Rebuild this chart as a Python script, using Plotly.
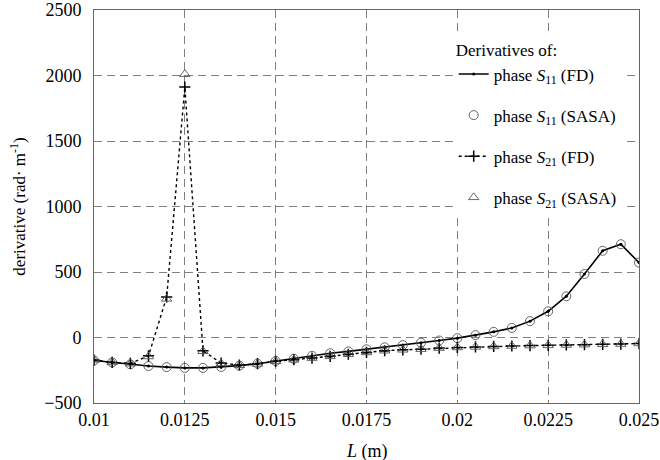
import plotly.graph_objects as go

L = [0.01 + 0.0005 * i for i in range(31)]

s11_fd = [-175, -190, -205, -218, -226, -232, -232, -225, -215, -200,
          -180, -162, -140, -120, -106, -90, -75, -58, -40, -23,
          -5, 18, 43, 73, 125, 200, 315, 485, 662, 712, 572]
s11_sasa = [-175, -190, -205, -218, -226, -232, -232, -225, -215, -200,
            -180, -162, -140, -120, -106, -90, -75, -58, -40, -23,
            -5, 18, 43, 73, 125, 200, 315, 485, 662, 712, 572]
s21_fd = [-172, -190, -198, -140, 309, 1912, -102, -195, -210, -200,
          -182, -170, -157, -144, -128, -114, -101, -94, -89, -81,
          -76, -72, -68, -65, -62, -60, -57, -55, -52, -50, -46]
s21_sasa = [-172, -190, -200, -145, 295, 2010, -105, -198, -212, -202,
            -182, -170, -157, -144, -128, -114, -101, -94, -89, -81,
            -76, -72, -68, -65, -62, -60, -57, -55, -52, -50, -46]

x_ticks = [0.01, 0.0125, 0.015, 0.0175, 0.02, 0.0225, 0.025]
x_labels = ["0.01", "0.0125", "0.015", "0.0175", "0.02", "0.0225", "0.025"]
y_ticks = [-500, 0, 500, 1000, 1500, 2000, 2500]

FONT = "Liberation Serif, Times New Roman, serif"

fig = go.Figure()
fig.add_trace(go.Scatter(
    x=L, y=s11_fd, mode="lines+markers", name="phase <i>S</i><sub>11</sub> (FD)",
    line=dict(color="black", width=1.6), marker=dict(size=3, color="black"),
    legendgroup="a"))
fig.add_trace(go.Scatter(
    x=L, y=s11_sasa, mode="markers", name="phase <i>S</i><sub>11</sub> (SASA)",
    marker=dict(symbol="circle-open", size=9, color="#555", line=dict(width=0.9)),
    legendgroup="b"))
fig.add_trace(go.Scatter(
    x=L, y=s21_fd, mode="lines+markers", name="phase <i>S</i><sub>21</sub> (FD)",
    line=dict(color="black", width=1.4, dash="dot"),
    marker=dict(symbol="cross-thin-open", size=8, color="black", line=dict(width=1.5)),
    legendgroup="c"))
fig.add_trace(go.Scatter(
    x=L, y=s21_sasa, mode="markers", name="phase <i>S</i><sub>21</sub> (SASA)",
    marker=dict(symbol="triangle-up-open", size=9, color="#555", line=dict(width=0.9)),
    legendgroup="d"))

axis_common = dict(
    showline=True, linecolor="#666", linewidth=1, mirror=True,
    showgrid=True, gridcolor="#808080", gridwidth=1, griddash="8px,5px",
    zeroline=False, ticks="", ticklen=0, ticklabeloverflow="allow",
    automargin=False,
    tickfont=dict(size=18, color="black", family=FONT),
)

fig.update_xaxes(range=[0.01, 0.025], tickvals=x_ticks, ticktext=x_labels,
                 ticklabelstandoff=0, **axis_common)
fig.update_yaxes(range=[-500, 2500], tickvals=y_ticks, ticklabelstandoff=8,
                 title=dict(text="derivative (rad· m<sup>-1</sup>)", font=dict(size=17, family=FONT, color="black"), standoff=14),
                 **axis_common)

fig.add_annotation(text="<i>L</i> (m)", xref="paper", yref="paper",
                   x=0.5, y=-(48 / 393), xanchor="center", yanchor="middle",
                   showarrow=False, font=dict(size=18, family=FONT, color="black"))

fig.update_layout(
    width=660, height=460,
    margin=dict(l=94, r=21, t=10, b=57),
    paper_bgcolor="white", plot_bgcolor="white",
    font=dict(family=FONT, color="black"),
    showlegend=True,
    legend=dict(
        title=dict(text="Derivatives of:", font=dict(size=17, family=FONT, color="black")),
        x=0.660, y=0.938, xanchor="left", yanchor="top",
        bgcolor="white", borderwidth=0,
        font=dict(size=17, family=FONT, color="black"),
        tracegroupgap=16, itemwidth=30,
    ),
)

fig.write_html("out.html", config={"displayModeBar": False},
               post_script="document.body.style.margin='0';")
